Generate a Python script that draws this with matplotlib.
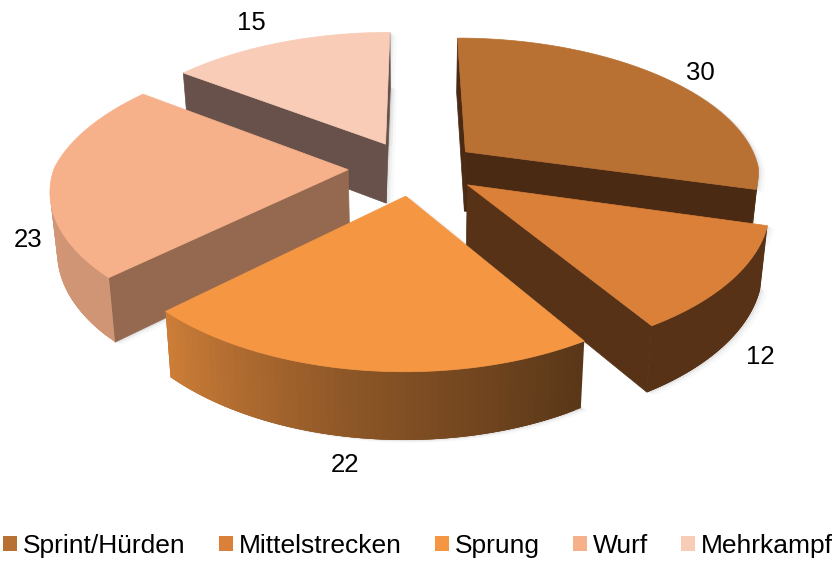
import numpy as np
import matplotlib
matplotlib.use("Agg")
import matplotlib.pyplot as plt
from matplotlib.patches import Patch, Polygon
from matplotlib.colors import to_rgb

plt.rcParams['font.family'] = ['Liberation Sans', 'DejaVu Sans']

# Data
categories = ['Sprint/Hürden', 'Mittelstrecken', 'Sprung', 'Wurf', 'Mehrkampf']
values = [30, 12, 22, 23, 15]

# Styles
top_colors = ['#B87033', '#DA8039', '#F59643', '#F7B18A', '#F8CCB6']
wall_colors = ['#4A2A12', '#573217', '#5F3616', '#94694F', '#67514A']
label_pos = [(700, 73), (760, 357), (345, 465), (28, 240), (251, 23)]

# Projection of the tilted pie
CX, CY = 414, 168
RX, RY = 294, 137
PERSP = 0.162
EXPLODE_X, EXPLODE_Y = 0.224, 0.2
DEPTH = 60


def project(gx, gy, down=0.0):
    s = 1 / (1 - PERSP * gy)
    sx = s ** 0.8 if gy > 0 else s ** 1.13
    x = CX + RX * gx * sx * (1 - 0.02 * down)
    y = CY + RY * gy * s + DEPTH * down * s ** 0.6
    return x, y


def arc_shade(angle):
    # brightness of the outer wall, depending on where it faces
    return np.interp(angle, [100, 150, 190, 226, 270, 360],
                     [0.36, 0.37, 0.58, 0.84, 0.85, 0.85])


def quad(p, q):
    return [project(*p), project(*q), project(*q, 1.0), project(*p, 1.0)]


def area(pts):
    pts = np.array(pts)
    x, y = pts[:, 0], pts[:, 1]
    return 0.5 * np.sum(x * np.roll(y, -1) - np.roll(x, -1) * y)


fig = plt.figure(figsize=(8.39, 5.65), dpi=100)
ax = fig.add_axes([0, 0, 1, 1])
ax.set_xlim(0, 839)
ax.set_ylim(565, 0)
ax.axis('off')

edges = np.cumsum([0] + values) / sum(values) * 360

slices = []
for i in range(len(values)):
    a0, a1 = edges[i], edges[i + 1]
    mid = np.radians((a0 + a1) / 2)
    apex = (EXPLODE_X * np.sin(mid), -EXPLODE_Y * np.cos(mid))
    angles = np.linspace(a0, a1, 60)
    rim = [(apex[0] + np.sin(np.radians(a)), apex[1] - np.cos(np.radians(a))) for a in angles]
    slices.append((i, apex, angles, rim))

# back slices first, the front one last
draw_order = [4, 0, 3, 1, 2]
for i, apex, angles, rim in [slices[k] for k in draw_order]:
    base = 10 + draw_order.index(i) * 10
    top = [project(*apex)] + [project(*p) for p in rim]
    bottom = [project(*apex, 1.0)] + [project(*p, 1.0) for p in rim]

    # soft drop shadow
    for off, alpha in [(7, 0.03), (4, 0.05), (2, 0.08)]:
        for poly in (top, bottom):
            ax.add_patch(Polygon(np.array(poly) + [off, off * 0.4], closed=True,
                                 fc='#555555', ec='none', alpha=alpha, zorder=base))

    # radial walls
    for p, q in ((apex, rim[0]), (rim[-1], apex)):
        pts = quad(p, q)
        if area(pts) < 0:
            ax.add_patch(Polygon(pts, closed=True, fc=wall_colors[i], ec=wall_colors[i],
                                 lw=0.5, zorder=base + 1))
    # outer wall, shaded by angle; each quad overlaps the next so no seams show
    for j in range(len(rim) - 1):
        if area(quad(rim[j], rim[j + 1])) < 0:
            pts = quad(rim[j], rim[min(j + 3, len(rim) - 1)])
            shade = arc_shade((angles[j] + angles[j + 1]) / 2)
            c = np.array(to_rgb(top_colors[i]))
            if i < 2:
                c = np.array(to_rgb(wall_colors[i]))
                shade = 1.0
            ax.add_patch(Polygon(pts, closed=True, fc=c * shade, ec='none', zorder=base + 2))
    ax.add_patch(Polygon(top, closed=True, fc=top_colors[i], ec=top_colors[i],
                         lw=0.5, zorder=base + 3))

for v, (x, y) in zip(values, label_pos):
    ax.text(x, y, str(v), fontsize=18.5, color='black', ha='center', va='center', zorder=100)

handles = [Patch(fc=c, ec='none') for c in top_colors]
ax.legend(handles, categories, ncol=5, frameon=False, fontsize=19,
          loc='center left', bbox_to_anchor=(3 / 839, 1 - 546 / 565),
          borderaxespad=0, borderpad=0, handlelength=0.53, handleheight=0.53,
          handletextpad=0.23, columnspacing=1.25, labelspacing=0)

fig.savefig('out.png', dpi=100)
